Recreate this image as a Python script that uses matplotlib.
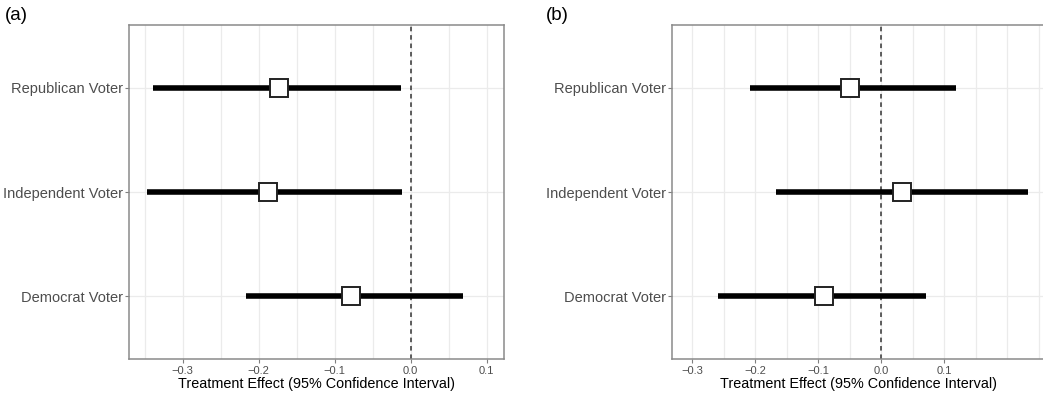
import numpy as np
import matplotlib.pyplot as plt

plt.rcParams["font.family"] = ["Liberation Sans", "DejaVu Sans"]

# groups from top to bottom
groups = ["Republican Voter", "Independent Voter", "Democrat Voter"]

# panel (a)
est_a = [-0.173, -0.188, -0.078]
low_a = [-0.339, -0.347, -0.217]
high_a = [-0.013, -0.011, 0.069]

# panel (b)
est_b = [-0.050, 0.033, -0.091]
low_b = [-0.209, -0.167, -0.260]
high_b = [0.119, 0.233, 0.071]

tick_vals = [-0.3, -0.2, -0.1, 0.0, 0.1]
tick_labels = ["\u22120.3", "\u22120.2", "\u22120.1", "0.0", "0.1"]

fig = plt.figure(figsize=(10.43, 3.95), dpi=100)
ax_a = fig.add_axes([0.1237, 0.0911, 0.3595, 0.8456])
ax_b = fig.add_axes([0.6440, 0.0911, 0.3590, 0.8456])


def draw_panel(ax, est, low, high, xlim, minor_grid):
    y = np.arange(len(groups))[::-1] + 1
    ax.set_xlim(*xlim)
    ax.set_ylim(0.4, 3.6)
    ax.set_xticks(tick_vals)
    ax.set_xticklabels(tick_labels)
    ax.set_xticks(minor_grid, minor=True)
    ax.set_yticks(y)
    ax.set_yticklabels(groups)
    ax.grid(True, which="major", color="#ebebeb", linewidth=0.9, zorder=0)
    ax.grid(True, which="minor", axis="x", color="#ebebeb", linewidth=0.9, zorder=0)
    ax.tick_params(axis="x", which="major", labelsize=8, colors="#7f7f7f",
                   labelcolor="#4d4d4d", length=3, width=0.8, pad=2)
    ax.tick_params(axis="y", which="major", labelsize=10.5, colors="#7f7f7f",
                   labelcolor="#4d4d4d", length=3, width=0.8, pad=1)
    ax.tick_params(which="minor", length=0)
    for s in ax.spines.values():
        s.set_color("#8a8a8a")
        s.set_linewidth(1.1)
    ax.axvline(0, color="#333333", linestyle=(0, (3, 2.5)), linewidth=1.1, zorder=2)
    ax.hlines(y, low, high, color="black", linewidth=4, zorder=3)
    ax.plot(est, y, linestyle="none", marker="s", markersize=13.5,
            markerfacecolor="white", markeredgecolor="#222222",
            markeredgewidth=1.4, zorder=4)
    ax.set_xlabel("Treatment Effect (95% Confidence Interval)", fontsize=10.4,
                  labelpad=1)


draw_panel(ax_a, est_a, low_a, high_a, (-0.3707, 0.1228),
           np.arange(-0.35, 0.11, 0.05))
draw_panel(ax_b, est_b, low_b, high_b, (-0.333, 0.262),
           np.arange(-0.30, 0.26, 0.05))

fig.text(0.005, 0.962, "(a)", fontsize=13.5, va="center", ha="left")
fig.text(0.523, 0.962, "(b)", fontsize=13.5, va="center", ha="left")

fig.savefig("out.png", dpi=100)
